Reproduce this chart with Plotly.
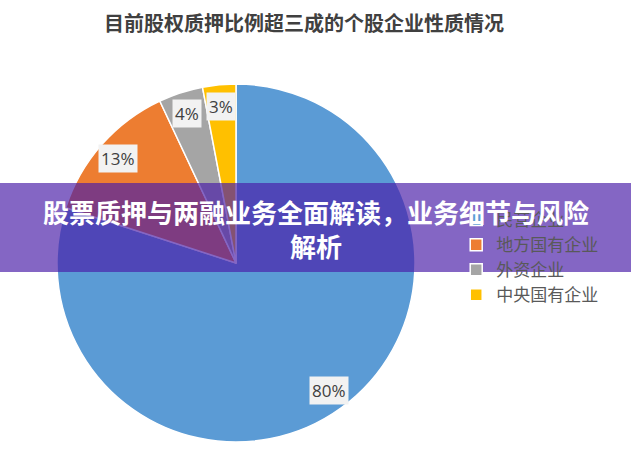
import math
import plotly.graph_objects as go

# ---- data ----
categories = ["民营企业", "地方国有企业", "外资企业", "中央国有企业"]
values = [80, 13, 4, 3]
colors = ["#5B9BD5", "#ED7D31", "#A5A5A5", "#FFC000"]
title_text = "目前股权质押比例超三成的个股企业性质情况"
banner_text = "股票质押与两融业务全面解读，业务细节与风险<br>解析"

W, H = 631, 456
CX, CY, R = 236, 263, 179  # pie centre/radius in px (from top-left)

dom_x = [(CX - R) / W, (CX + R) / W]
dom_y = [(H - (CY + R)) / H, (H - (CY - R)) / H]

fig = go.Figure()
fig.add_trace(go.Pie(
    labels=categories,
    values=values,
    sort=False,
    direction="clockwise",
    rotation=0,
    marker=dict(colors=colors, line=dict(color="white", width=1.5)),
    textinfo="none",
    hoverinfo="label+percent",
    domain=dict(x=dom_x, y=dom_y),
))

# data labels computed from slice mid-angles
total = sum(values)
annotations = []
cum = 0
for v in values:
    mid = (cum + v / 2) / total * 2 * math.pi
    cum += v
    d = 0.88 * R
    px = CX + d * math.sin(mid)
    py = CY - d * math.cos(mid)
    annotations.append(dict(
        x=px / W, y=(H - py) / H, xref="paper", yref="paper",
        xanchor="center", yanchor="middle",
        text=f"{round(v / total * 100)}%", showarrow=False,
        font=dict(family="Open Sans, Noto Sans CJK SC, sans-serif", size=17, color="#404040"),
        bgcolor="#F2F2F2", borderpad=2,
    ))

annotations.append(dict(
    x=304 / W, y=(H - 23) / H, xref="paper", yref="paper",
    xanchor="center", yanchor="middle",
    text=f"<b>{title_text}</b>", showarrow=False,
    font=dict(family="Noto Sans CJK SC", size=20, color="#404040"),
))

# banner overlay
annotations.append(dict(
    x=0.5, y=(H - 228) / H, xref="paper", yref="paper",
    xanchor="center", yanchor="middle",
    text=f"<b>{banner_text}</b>", showarrow=False,
    font=dict(family="Noto Sans CJK SC", size=26, color="white"),
    align="center",
))

fig.update_layout(
    width=W, height=H,
    margin=dict(l=0, r=0, t=0, b=0),
    paper_bgcolor="white",
    plot_bgcolor="white",
    showlegend=True,
    legend=dict(
        x=0.723, y=(H - 202) / H, xanchor="left", yanchor="top",
        font=dict(family="Noto Sans CJK SC", size=17, color="#595959"),
        tracegroupgap=0, itemwidth=30,
        bgcolor="rgba(0,0,0,0)",
    ),
    shapes=[dict(
        type="rect", xref="paper", yref="paper",
        x0=0, x1=1, y0=(H - 272) / H, y1=(H - 183) / H,
        fillcolor="rgba(73,30,168,0.68)", line=dict(width=0), layer="above",
    )],
    annotations=annotations,
)

fig.write_html("out.html")
